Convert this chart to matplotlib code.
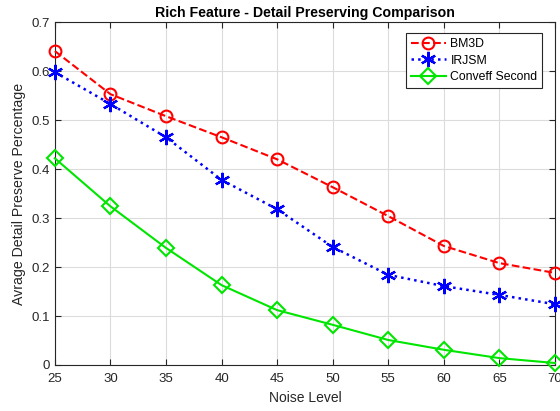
import matplotlib
matplotlib.use('Agg')
import matplotlib.pyplot as plt

plt.rcParams['font.family'] = ['Liberation Sans', 'DejaVu Sans']

noise_level = [25, 30, 35, 40, 45, 50, 55, 60, 65, 70]
bm3d = [0.641, 0.553, 0.508, 0.465, 0.420, 0.363, 0.304, 0.243, 0.208, 0.188]
irjsm = [0.598, 0.533, 0.465, 0.378, 0.318, 0.241, 0.184, 0.161, 0.143, 0.124]
conveff_second = [0.422, 0.324, 0.239, 0.163, 0.112, 0.082, 0.051, 0.031, 0.014, 0.004]

fig = plt.figure(figsize=(5.6, 4.11), dpi=100)
ax = fig.add_axes([0.098, 0.112, 0.893, 0.834])

ax.plot(noise_level, bm3d, color='red', linestyle='--', linewidth=1.5,
        marker='o', markersize=8.5, markerfacecolor='none', markeredgewidth=1.5,
        label='BM3D', clip_on=False, zorder=3)
ax.plot(noise_level, irjsm, color='blue', linestyle=':', linewidth=1.8,
        marker=(6, 2, 0), markersize=11, markeredgewidth=1.6,
        label='IRJSM', clip_on=False, zorder=3)
ax.plot(noise_level, conveff_second, color='#00e600', linestyle='-', linewidth=1.5,
        marker='D', markersize=8, markerfacecolor='none', markeredgewidth=1.5,
        label='Conveff Second', clip_on=False, zorder=3)

ax.set_xlim(25, 70)
ax.set_ylim(0, 0.7)
ax.set_xticks(range(25, 71, 5))
ax.set_yticks([0, 0.1, 0.2, 0.3, 0.4, 0.5, 0.6, 0.7])
ax.set_yticklabels(['0', '0.1', '0.2', '0.3', '0.4', '0.5', '0.6', '0.7'])

ax.grid(True, color='#dcdcdc', linewidth=0.8)
ax.set_axisbelow(True)
for sp in ax.spines.values():
    sp.set_color('#262626')
    sp.set_linewidth(0.8)
ax.tick_params(direction='in', length=4, colors='#262626', labelsize=9.5,
               top=True, right=True)
ax.tick_params(axis='x', pad=6)

ax.set_xlabel('Noise Level', fontsize=10, color='#262626')
ax.set_ylabel('Avrage Detail Preserve Percentage', fontsize=10.2, color='#262626')
ax.set_title('Rich Feature - Detail Preserving Comparison', fontsize=10.2,
             fontweight='bold', pad=4)

leg = ax.legend(loc='upper right', bbox_to_anchor=(0.975, 0.968), fontsize=8.8,
                fancybox=False, framealpha=1, edgecolor='#262626',
                handlelength=2.9, borderpad=0.4, labelspacing=0.38,
                handletextpad=0.35, borderaxespad=0)
leg.get_frame().set_linewidth(0.8)

fig.savefig('out.png', dpi=100)
